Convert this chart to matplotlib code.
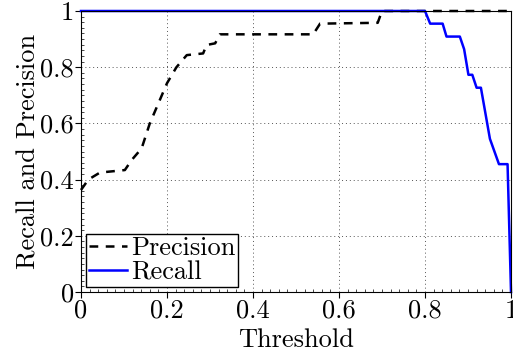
import matplotlib
matplotlib.use("Agg")
import matplotlib.pyplot as plt
from matplotlib.ticker import MultipleLocator

plt.rcParams['font.family'] = 'serif'
plt.rcParams['font.serif'] = ['cmr10', 'DejaVu Serif']
plt.rcParams['mathtext.fontset'] = 'cm'
plt.rcParams['axes.unicode_minus'] = False

prec_t = [0.0, 0.017, 0.044, 0.102, 0.118, 0.141, 0.16, 0.2, 0.222, 0.246, 0.284, 0.292,
          0.312, 0.323, 0.54, 0.556, 0.69, 0.70, 1.0]
prec_v = [0.363, 0.40, 0.425, 0.434, 0.47, 0.511, 0.60, 0.743, 0.80, 0.843, 0.849, 0.879,
          0.885, 0.917, 0.917, 0.955, 0.958, 1.0, 1.0]

rec_t = [0.0, 0.80, 0.812, 0.841, 0.85, 0.881, 0.891, 0.901, 0.91, 0.92, 0.93, 0.951,
         0.972, 0.992, 1.0]
rec_v = [1.0, 1.0, 0.955, 0.955, 0.909, 0.909, 0.864, 0.773, 0.773, 0.727, 0.727, 0.545,
         0.455, 0.455, 0.0]

xticks = [0, 0.2, 0.4, 0.6, 0.8, 1]
xlabels = ['0', '0.2', '0.4', '0.6', '0.8', '1']

FS = 19

fig = plt.figure(figsize=(5.13, 3.54), dpi=100)
ax = fig.add_axes([81/513, 1 - 292/354, 430/513, 281/354])

ax.plot(prec_t, prec_v, color='black', linestyle='--', linewidth=1.8, dashes=(3.5, 3),
        label='Precision', clip_on=False)
ax.plot(rec_t, rec_v, color='#0000ff', linewidth=1.8, label='Recall', clip_on=False)

ax.set_xlim(0, 1)
ax.set_ylim(0, 1)
ax.set_xticks(xticks)
ax.set_xticklabels(xlabels)
ax.set_yticks(xticks)
ax.set_yticklabels(xlabels)
ax.xaxis.set_minor_locator(MultipleLocator(0.02))
ax.yaxis.set_minor_locator(MultipleLocator(0.02))
ax.tick_params(which='major', direction='out', length=4, width=0.8, labelsize=FS, pad=1)
ax.tick_params(which='minor', direction='in', length=2, width=0.5)
ax.grid(True, which='major', linestyle=(0, (1, 3)), color='#555555', linewidth=0.7)

ax.set_xlabel('Threshold', fontsize=FS, labelpad=4)
ax.set_ylabel('Recall and Precision', fontsize=FS, labelpad=0)

leg = ax.legend(loc='lower left', fontsize=FS, frameon=True, fancybox=False,
                edgecolor='black', framealpha=1, borderpad=0.1, labelspacing=0.0,
                handlelength=1.45, handletextpad=0.15, borderaxespad=0.2)
leg.get_frame().set_linewidth(1.0)

fig.savefig('out.png', dpi=100)
